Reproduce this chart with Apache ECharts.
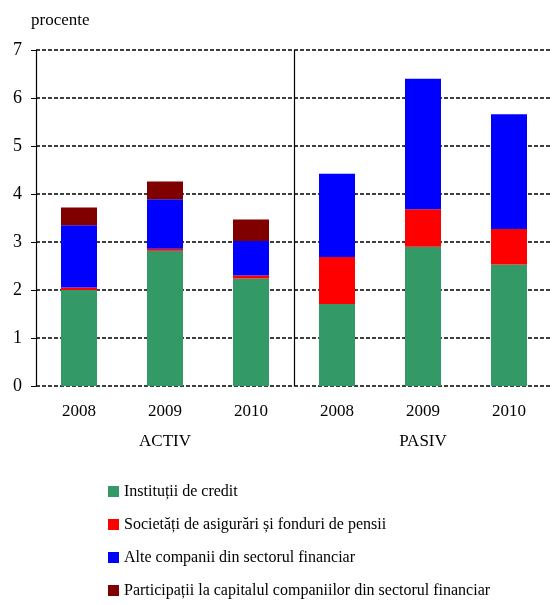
<!DOCTYPE html>
<html>
<head>
<meta charset="utf-8">
<script src="https://cdn.jsdelivr.net/npm/echarts@6/dist/echarts.min.js"></script>
<style>
html,body{margin:0;padding:0;background:#fff;}
#chart{width:552px;height:605px;}
</style>
</head>
<body>
<div id="chart"></div>
<script>
// ani pe grupe
const years = ['2008', '2009', '2010', '2008', '2009', '2010'];
const groups = ['ACTIV', 'PASIV'];
const yTicks = [0, 1, 2, 3, 4, 5, 6, 7];

const seriesNames = [
  'Instituții de credit',
  'Societăți de asigurări și fonduri de pensii',
  'Alte companii din sectorul financiar',
  'Participații la capitalul companiilor din sectorul financiar'
];
const institutii = [2.0, 2.82, 2.24, 1.71, 2.90, 2.53];
const asigurari = [0.05, 0.04, 0.06, 0.98, 0.78, 0.74];
const alteCompanii = [1.30, 1.03, 0.72, 1.73, 2.72, 2.39];
const participatii = [0.37, 0.37, 0.45, 0, 0, 0];
const colors = ['#339966', '#ff0000', '#0000ff', '#800000'];

const font = 'Liberation Serif, Times New Roman, serif';
const chart = echarts.init(document.getElementById('chart'));

const values = [institutii, asigurari, alteCompanii, participatii];
const series = values.map(function (d, i) {
  return {
    name: seriesNames[i],
    type: 'bar',
    stack: 'total',
    barWidth: 36,
    data: d,
    itemStyle: { color: colors[i] },
    emphasis: { disabled: true }
  };
});

// linia care separa ACTIV de PASIV
series.push({
  type: 'line',
  xAxisIndex: 2,
  data: [],
  silent: true,
  markLine: {
    silent: true,
    symbol: 'none',
    label: { show: false },
    lineStyle: { color: '#000', width: 1.2, type: 'solid' },
    data: [{ xAxis: years.length / 2 }]
  }
});

chart.setOption({
  animation: false,
  title: {
    text: 'procente',
    left: 26,
    top: 7,
    textStyle: { fontFamily: font, fontSize: 17, fontWeight: 'normal', color: '#000' }
  },
  grid: { left: 36, right: 0, top: 50, bottom: 219, containLabel: false },
  legend: {
    orient: 'vertical',
    left: 103,
    top: 477,
    height: 125,
    itemWidth: 11,
    itemHeight: 11,
    itemGap: 14,
    itemTextGap: 3,
    icon: 'rect',
    selectedMode: false,
    data: seriesNames,
    textStyle: { fontFamily: font, fontSize: 16, color: '#000', lineHeight: 19 }
  },
  xAxis: [
    {
      type: 'category',
      data: years,
      axisLine: { show: false },
      axisTick: { show: false },
      axisLabel: { fontFamily: font, fontSize: 17, color: '#000', margin: 17 }
    },
    {
      type: 'category',
      data: groups,
      position: 'bottom',
      offset: 30,
      axisLine: { show: false },
      axisTick: { show: false },
      axisLabel: { fontFamily: font, fontSize: 17, color: '#000', margin: 17 }
    },
    {
      type: 'value',
      min: 0,
      max: years.length,
      show: false
    }
  ],
  yAxis: {
    type: 'value',
    min: yTicks[0],
    max: yTicks[yTicks.length - 1],
    interval: 1,
    axisLine: { show: true, lineStyle: { color: '#000', width: 1.2 } },
    axisTick: { show: true, length: 5, lineStyle: { color: '#000' } },
    axisLabel: { fontFamily: font, fontSize: 18, color: '#000', margin: 14 },
    splitLine: { show: true, lineStyle: { color: '#000', width: 1.5, type: [4, 2] } }
  },
  series: series
});
</script>
</body>
</html>
